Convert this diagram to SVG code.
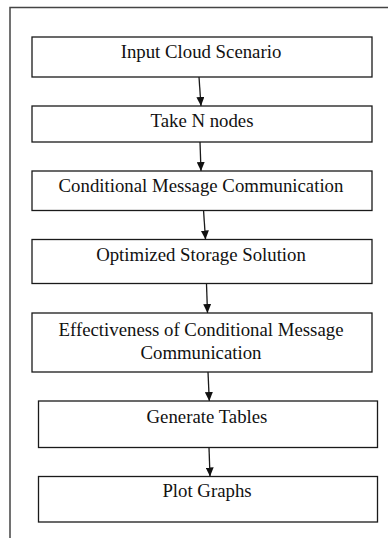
<svg xmlns="http://www.w3.org/2000/svg" width="388" height="538" viewBox="0 0 388 538">
  <style>
    .box { fill: #ffffff; stroke: #1a1a1a; stroke-width: 1.3; }
    .label { font-family: "Liberation Serif", "Times New Roman", serif; font-size: 18.8px; fill: #111111; text-anchor: middle; }
    .edge { stroke: #1a1a1a; stroke-width: 1.3; fill: none; marker-end: url(#arrow); }
    .frame { stroke: #444444; stroke-width: 1.5; fill: none; }
  </style>
  <defs>
    <marker id="arrow" viewBox="0 0 9 8" refX="9" refY="4" markerWidth="9" markerHeight="8" markerUnits="userSpaceOnUse" orient="auto">
      <path d="M0,0 L9,4 L0,8 Z" fill="#111111"/>
    </marker>
  </defs>
  <rect width="388" height="538" fill="#ffffff"/>

  <!-- page frame: top and left edges only -->
  <path class="frame" d="M10,538 L10,7.5 L388,7.5"/>

  <g id="connectors">
    <line class="edge" x1="199" y1="77" x2="201" y2="106"/>
    <line class="edge" x1="200" y1="142" x2="201" y2="171"/>
    <line class="edge" x1="203.5" y1="210" x2="205.5" y2="239.5"/>
    <line class="edge" x1="206.5" y1="284" x2="207.5" y2="313"/>
    <line class="edge" x1="208" y1="372" x2="209.3" y2="401"/>
    <line class="edge" x1="209" y1="447.5" x2="210" y2="476.5"/>
  </g>

  <g id="node-input">
    <rect class="box" x="32" y="37" width="340" height="40"/>
    <text class="label" x="201" y="57.5">Input Cloud Scenario</text>
  </g>
  <g id="node-take">
    <rect class="box" x="32" y="106" width="340" height="36"/>
    <text class="label" x="202" y="127">Take N nodes</text>
  </g>
  <g id="node-conditional">
    <rect class="box" x="32" y="171" width="340" height="39.5"/>
    <text class="label" x="201" y="192">Conditional Message Communication</text>
  </g>
  <g id="node-storage">
    <rect class="box" x="32" y="239.5" width="340" height="44"/>
    <text class="label" x="201" y="261">Optimized Storage Solution</text>
  </g>
  <g id="node-effectiveness">
    <rect class="box" x="32" y="313" width="340" height="59"/>
    <text class="label" x="201" y="336">Effectiveness of Conditional Message</text>
    <text class="label" x="201" y="358.5">Communication</text>
  </g>
  <g id="node-tables">
    <rect class="box" x="38.5" y="401" width="339" height="46.5"/>
    <text class="label" x="207" y="422.5">Generate Tables</text>
  </g>
  <g id="node-graphs">
    <rect class="box" x="38.5" y="476.5" width="339" height="45.5"/>
    <text class="label" x="207" y="497">Plot Graphs</text>
  </g>
</svg>
